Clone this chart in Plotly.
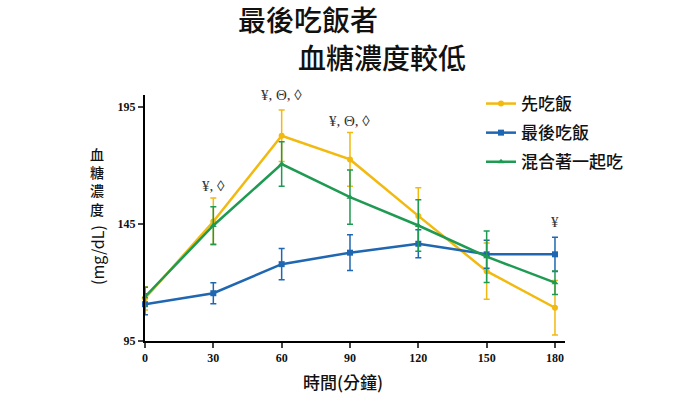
import plotly.graph_objects as go

times = [0, 30, 60, 90, 120, 150, 180]
series_names = ["先吃飯", "最後吃飯", "混合著一起吃"]
rice_first = [113.2, 146.0, 182.6, 172.5, 148.4, 124.8, 109.2]
rice_first_err = [5, 10, 11, 11.5, 12, 12, 11.6]
rice_last = [110.7, 115.4, 127.8, 132.7, 136.5, 132.0, 132.0]
rice_last_err = [4.5, 4.5, 6.7, 7.6, 6.0, 6.0, 7.3]
mixed = [113.9, 144.3, 170.5, 156.4, 144.3, 131.0, 119.9]
mixed_err = [4, 8, 9.5, 11.6, 11, 11, 5]
sig_times = [30, 60, 90, 180]
sig_labels = ["¥, ◊", "¥, Θ, ◊", "¥, Θ, ◊", "¥"]
sig_levels = [161, 199.8, 189, 146]
y_ticks = [95, 145, 195]
x_ticks = times
title_line1 = "最後吃飯者"
title_line2 = "血糖濃度較低"
y_title_chars = ["血", "糖", "濃", "度"]
y_title_unit = "(mg/dL)"
x_title = "時間(分鐘)"

colors = ["#F2B90F", "#1F67B1", "#1E9A52"]
symbols = ["circle", "square", "triangle-up"]
values = [rice_first, rice_last, mixed]
errs = [rice_first_err, rice_last_err, mixed_err]

W, H = 700, 394
L, R, T, B = 145, 135, 95, 53
pw, ph = W - L - R, H - T - B


def px(x, y):
    return (x - L) / pw, 1 - (y - T) / ph


fig = go.Figure()
for i, (name, v, e, c, s) in enumerate(zip(series_names, values, errs, colors, symbols)):
    fig.add_trace(go.Scatter(
        x=times, y=v, name=name, mode="lines+markers", legendgroup=str(i),
        line=dict(color=c, width=2.5),
        marker=dict(color=c, symbol=s, size=6),
        error_y=dict(type="data", array=e, visible=True, color=c, thickness=1.5, width=3),
        cliponaxis=False,
    ))

for t, lab, lv in zip(sig_times, sig_labels, sig_levels):
    fig.add_annotation(x=t, y=lv, text=lab, showarrow=False, xref="x", yref="y",
                       font=dict(family="Liberation Serif", size=15, color="#333333"))


def text_at(x, y, text, size, weight="normal", angle=0):
    ax, ay = px(x, y)
    fig.add_annotation(x=ax, y=ay, xref="paper", yref="paper", text=text, showarrow=False,
                       textangle=angle, xanchor="center", yanchor="middle",
                       font=dict(family="Noto Sans CJK TC", size=size, color="#111111", weight=weight))


text_at(307.5, 19, title_line1, 28, 500)
text_at(382, 57, title_line2, 28, 500)
text_at(97, 181, "<br>".join(y_title_chars), 14, 500)
text_at(97, 255, y_title_unit, 16, "normal", -90)
text_at(343, 381, x_title, 17, 500)

lx, ly = px(481, 86)
fig.update_layout(
    width=W, height=H,
    margin=dict(l=L, r=R, t=T, b=B),
    plot_bgcolor="white", paper_bgcolor="white",
    showlegend=True,
    legend=dict(x=lx, y=ly, xanchor="left", yanchor="top",
                font=dict(family="Noto Sans CJK TC", size=17, color="#111111", weight=500),
                tracegroupgap=4, traceorder="grouped", bgcolor="rgba(0,0,0,0)"),
    xaxis=dict(range=[0, 184.4], tickvals=x_ticks, ticks="outside", ticklen=5, tickwidth=2,
               showline=True, linecolor="black", linewidth=2, showgrid=False, zeroline=False,
               tickfont=dict(family="Liberation Serif", size=12, color="#111111", weight="bold")),
    yaxis=dict(range=[95, 200], tickvals=y_ticks, ticks="outside", ticklen=5, tickwidth=2,
               showline=True, linecolor="black", linewidth=2, showgrid=False, zeroline=False,
               tickfont=dict(family="Liberation Serif", size=12, color="#111111", weight="bold")),
)

fig.write_html("out.html", config={"displayModeBar": False},
               post_script="document.body.style.margin='0';document.body.style.overflow='hidden';")
